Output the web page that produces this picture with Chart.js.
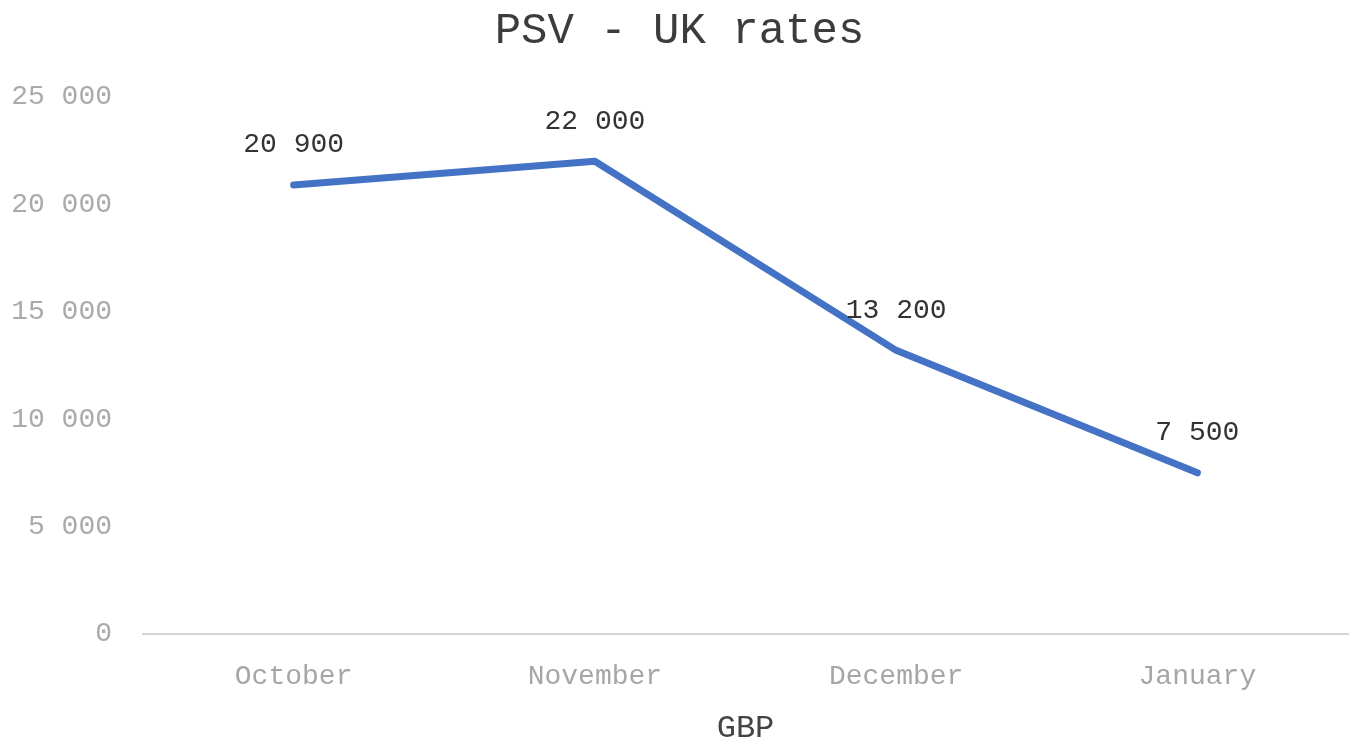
<!DOCTYPE html>
<html>
<head>
<meta charset="utf-8">
<script src="https://cdn.jsdelivr.net/npm/chart.js@4"></script>
<style>
  html, body { margin: 0; padding: 0; background: #fff; }
  #wrap { width: 1354px; height: 745px; position: relative; }
</style>
</head>
<body>
<div id="wrap"><canvas id="rateChart"></canvas></div>
<script>
const months = ["October", "November", "December", "January"];
const rates = [20900, 22000, 13200, 7500];
const yTicks = [0, 5000, 10000, 15000, 20000, 25000];

const fontFamily = "'Liberation Mono', 'DejaVu Sans Mono', monospace";

function spaced(v) {
    return String(v).replace(/\B(?=(\d{3})+(?!\d))/g, " ");
}

// draws the value above each point
const valueLabels = {
    id: "valueLabels",
    afterDatasetsDraw(chart) {
        const c = chart.ctx;
        const meta = chart.getDatasetMeta(0);
        c.save();
        c.font = "28px " + fontFamily;
        c.fillStyle = "#333333";
        c.textAlign = "center";
        c.textBaseline = "middle";
        meta.data.forEach(function (pt, i) {
            c.fillText(spaced(rates[i]), pt.x, pt.y - 40);
        });
        c.restore();
    }
};

document.addEventListener("DOMContentLoaded", function () {
    const ctx = document.getElementById("rateChart");

    new Chart(ctx, {
        type: "line",
        data: {
            labels: months,
            datasets: [
                {
                    label: "GBP",
                    data: rates,
                    borderColor: "#4472c4",
                    borderWidth: 7,
                    pointRadius: 0,
                    tension: 0,
                    borderCapStyle: "round",
                    borderJoinStyle: "round",
                    fill: false
                }
            ]
        },
        options: {
            responsive: true,
            maintainAspectRatio: false,
            animation: false,
            layout: {
                padding: { left: 11, right: 6, top: 0, bottom: 0 }
            },
            plugins: {
                legend: { display: false },
                tooltip: { enabled: false },
                title: {
                    display: true,
                    text: "PSV - UK rates",
                    color: "#3c3c3c",
                    font: { family: fontFamily, size: 44, weight: "normal", lineHeight: 1.2 },
                    padding: { top: 5, bottom: 39 }
                }
            },
            scales: {
                x: {
                    offset: true,
                    grid: { display: false, drawTicks: false },
                    border: { display: true, color: "#d4d4d4", width: 2 },
                    afterFit: function (axis) { axis.height = 111; },
                    ticks: {
                        color: "#a6a6a6",
                        padding: 26,
                        font: { family: fontFamily, size: 28, lineHeight: 1.2 }
                    },
                    title: {
                        display: true,
                        text: "GBP",
                        color: "#444444",
                        font: { family: fontFamily, size: 32, lineHeight: 1.0 },
                        padding: { top: 19, bottom: 0 }
                    }
                },
                y: {
                    min: yTicks[0],
                    max: yTicks[yTicks.length - 1],
                    grid: { display: false, drawTicks: false },
                    border: { display: false },
                    afterFit: function (axis) { axis.width = 132; },
                    afterBuildTicks: function (axis) {
                        axis.ticks = yTicks.map(function (v) { return { value: v }; });
                    },
                    ticks: {
                        color: "#aaaaaa",
                        padding: 31,
                        font: { family: fontFamily, size: 28, lineHeight: 1.2 },
                        callback: function (v) { return spaced(v); }
                    }
                }
            }
        },
        plugins: [valueLabels]
    });
});
</script>
</body>
</html>
